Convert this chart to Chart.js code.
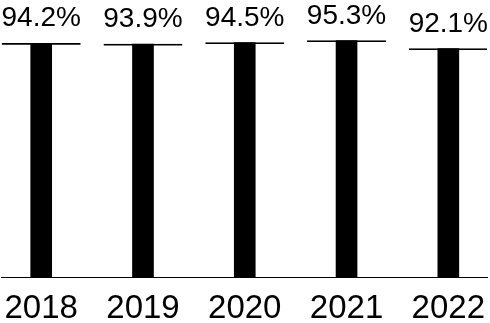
<!DOCTYPE html>
<html lang="en">
<head>
  <meta charset="UTF-8" />
  <title>Share by year</title>
  <script src="https://cdn.jsdelivr.net/npm/chart.js"></script>
  <style>
    body { margin: 0; background: #fff; }
    #wrap { width: 490px; height: 323px; }
  </style>
</head>
<body>
  <div id="wrap"><canvas id="chart"></canvas></div>
  <script>
    const years = ['2018', '2019', '2020', '2021', '2022'];
    const shares = [94.2, 93.9, 94.5, 95.3, 92.1];

    const points = shares.map((v, i) => ({ x: i, y: v }));

    // percent labels above each cap line
    const valueLabels = {
      id: 'valueLabels',
      afterDatasetsDraw(chart) {
        const ctx = chart.ctx;
        const meta = chart.getDatasetMeta(0);
        ctx.save();
        ctx.font = '28px "Liberation Sans", Arial, sans-serif';
        ctx.fillStyle = '#000';
        ctx.textAlign = 'center';
        ctx.textBaseline = 'alphabetic';
        meta.data.forEach((bar, i) => {
          ctx.fillText(shares[i].toFixed(1) + '%', bar.x, bar.y - 17);
        });
        ctx.restore();
      }
    };

    new Chart(document.getElementById('chart'), {
      type: 'bar',
      data: {
        datasets: [
          {
            data: points,
            backgroundColor: '#000',
            barThickness: 21,
            grouped: false,
            order: 2
          },
          {
            data: points,
            backgroundColor: 'rgba(0,0,0,0)',
            borderColor: '#000',
            borderWidth: { top: 1, left: 0, right: 0, bottom: 0 },
            borderSkipped: false,
            barThickness: 79,
            grouped: false,
            order: 1
          }
        ]
      },
      options: {
        responsive: true,
        maintainAspectRatio: false,
        animation: false,
        layout: { padding: { top: 29, left: 1, right: 3, bottom: 0 } },
        plugins: { legend: { display: false }, tooltip: { enabled: false } },
        scales: {
          x: {
            type: 'linear',
            offset: false,
            min: -0.395,
            max: 4.38,
            grid: { display: false, drawTicks: false },
            border: { display: true, color: '#000', width: 1 },
            afterBuildTicks: s => { s.ticks = years.map((_, i) => ({ value: i })); },
            afterFit: s => { s.height = 46; },
            ticks: {
              autoSkip: false,
              maxRotation: 0,
              padding: 0,
              color: '#000',
              font: { family: '"Liberation Sans", Arial, sans-serif', size: 33, lineHeight: 1.96 },
              callback: v => years[v]
            }
          },
          y: {
            display: false,
            min: 0,
            max: 100
          }
        }
      },
      plugins: [valueLabels]
    });
  </script>
</body>
</html>
